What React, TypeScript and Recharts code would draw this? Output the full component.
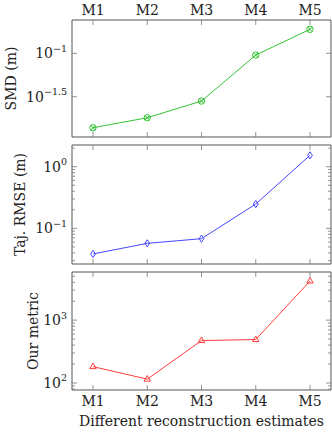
import { LineChart, Line, XAxis, YAxis } from 'recharts'

// ── data ────────────────────────────────────────────────────────────────────
const models = ['M1', 'M2', 'M3', 'M4', 'M5']
const smdValues = [0.0139, 0.0181, 0.0282, 0.0955, 0.189]
const rmseValues = [0.0384, 0.0571, 0.068, 0.248, 1.53]
const metricValues = [182, 115, 473, 491, 4190]

// log-axis ticks: major exponents (labelled) and unlabelled minor ticks
const smdMajorExp = [-1.5, -1]
const smdMinor: number[] = []
const rmseMajorExp = [-1, 0]
const rmseMinor = [0.03, 0.04, 0.05, 0.06, 0.07, 0.08, 0.09, 0.2, 0.3, 0.4, 0.5, 0.6, 0.7, 0.8, 0.9, 2]
const metricMajorExp = [2, 3]
const metricMinor = [80, 90, 200, 300, 400, 500, 600, 700, 800, 900, 2000, 3000, 4000, 5000]

const smdDomain = [0.01087, 0.242]
const rmseDomain = [0.0264, 2.25]
const metricDomain = [77.3, 5834]

const FONT = '"DejaVu Serif", serif'
const FS = 14
const FRAME = '#555'
const TICK = '#777'
const GREEN = '#33c433'
const BLUE = '#4646ff'
const RED = '#ff3c3c'

const W = 332
const PLOT_LEFT = 72
const PLOT_W = 259

const rows = (vals: number[]) => models.map((m, i) => ({ name: m, v: vals[i] }))

// ── ticks ───────────────────────────────────────────────────────────────────
function makeLeftTick(majorExp: number[]) {
  return (props: any) => {
    const { x, y, payload } = props
    const e = majorExp.find((m) => Math.abs(Math.log10(payload.value) - m) < 1e-6)
    const isMajor = e !== undefined
    return (
      <g>
        <line x1={x} x2={x + (isMajor ? 5 : 3)} y1={y} y2={y} stroke={TICK} strokeWidth={0.8} />
        {isMajor && (
          <text x={x - 5} y={y + 5} textAnchor="end" fontFamily={FONT} fontSize={FS} fill="#222">
            10
            <tspan dy={-6.5} fontSize={9.5}>{String(e).replace('-', '\u2212')}</tspan>
          </text>
        )}
      </g>
    )
  }
}

function makeRightTick(majorExp: number[]) {
  return (props: any) => {
    const { x, y, payload } = props
    const isMajor = majorExp.some((m) => Math.abs(Math.log10(payload.value) - m) < 1e-6)
    return <line x1={x} x2={x - (isMajor ? 5 : 3)} y1={y} y2={y} stroke={TICK} strokeWidth={0.8} />
  }
}

function makeXTick(side: 'top' | 'bottom', showLabel: boolean) {
  return (props: any) => {
    const { x, y, payload } = props
    const dir = side === 'top' ? 1 : -1
    return (
      <g>
        <line x1={x} x2={x} y1={y} y2={y + dir * 5} stroke={TICK} strokeWidth={0.8} />
        {showLabel && (
          <text
            x={x}
            y={side === 'top' ? y - 5 : y + 15.5}
            textAnchor="middle"
            fontFamily={FONT}
            fontSize={FS}
            fill="#222"
          >
            {payload.value}
          </text>
        )}
      </g>
    )
  }
}

function yTitle(text: string, baselineX: number) {
  return (props: any) => {
    const vb = props.viewBox
    const cy = vb.y + vb.height / 2
    return (
      <text
        x={baselineX}
        y={cy}
        transform={`rotate(-90, ${baselineX}, ${cy})`}
        textAnchor="middle"
        fontFamily={FONT}
        fontSize={FS}
        fill="#222"
      >
        {text}
      </text>
    )
  }
}

// ── markers ─────────────────────────────────────────────────────────────────
function OTimesDot({ cx, cy }: any) {
  const r = 3.2
  const d = r * 0.7
  return (
    <g stroke={GREEN} strokeWidth={1} fill="none">
      <circle cx={cx} cy={cy} r={r} />
      <line x1={cx - d} y1={cy - d} x2={cx + d} y2={cy + d} />
      <line x1={cx - d} y1={cy + d} x2={cx + d} y2={cy - d} />
    </g>
  )
}

function DiamondDot({ cx, cy }: any) {
  return (
    <path
      d={`M${cx},${cy - 3.6}L${cx + 2.4},${cy}L${cx},${cy + 3.6}L${cx - 2.4},${cy}Z`}
      stroke={BLUE}
      strokeWidth={1}
      fill="none"
    />
  )
}

function TriangleDot({ cx, cy }: any) {
  return (
    <path
      d={`M${cx},${cy - 3.6}L${cx + 3.2},${cy + 2}L${cx - 3.2},${cy + 2}Z`}
      stroke={RED}
      strokeWidth={1}
      fill="none"
    />
  )
}

// ── one panel ───────────────────────────────────────────────────────────────
type PanelProps = {
  top: number
  height: number
  margin: { top: number; bottom: number }
  topAxisH: number
  bottomAxisH: number
  topLabels: boolean
  bottomLabels: boolean
  values: number[]
  domain: number[]
  majorExp: number[]
  minor: number[]
  color: string
  dot: (p: any) => any
  title: string
  titleX: number
  xTitle?: string
}

function Panel(p: PanelProps) {
  const ticks = [...p.majorExp.map((e) => 10 ** e), ...p.minor]
  return (
    <div style={{ position: 'absolute', left: 0, top: p.top }}>
      <LineChart
        width={W}
        height={p.height}
        data={rows(p.values)}
        margin={{ top: p.margin.top, right: 0, bottom: p.margin.bottom, left: 0 }}
      >
        <XAxis
          xAxisId="t"
          orientation="top"
          dataKey="name"
          height={p.topAxisH}
          padding={{ left: 21, right: 21 }}
          tickSize={0}
          tickMargin={0}
          tickLine={false}
          interval={0}
          axisLine={{ stroke: FRAME }}
          tick={makeXTick('top', p.topLabels)}
        />
        <XAxis
          xAxisId="b"
          orientation="bottom"
          dataKey="name"
          height={p.bottomAxisH}
          padding={{ left: 21, right: 21 }}
          tickSize={0}
          tickMargin={0}
          tickLine={false}
          interval={0}
          axisLine={{ stroke: FRAME }}
          tick={makeXTick('bottom', p.bottomLabels)}
          label={
            p.xTitle
              ? (props: any) => {
                  const vb = props.viewBox
                  return (
                    <text
                      x={vb.x + vb.width / 2}
                      y={vb.y + 36}
                      textAnchor="middle"
                      fontFamily={FONT}
                      fontSize={FS}
                      fill="#222"
                    >
                      {p.xTitle}
                    </text>
                  )
                }
              : undefined
          }
        />
        <YAxis
          yAxisId="l"
          orientation="left"
          width={PLOT_LEFT}
          scale="log"
          type="number"
          domain={p.domain}
          allowDataOverflow
          ticks={ticks}
          interval={0}
          tickSize={0}
          tickMargin={0}
          tickLine={false}
          axisLine={{ stroke: FRAME }}
          tick={makeLeftTick(p.majorExp)}
          label={yTitle(p.title, p.titleX)}
        />
        <YAxis
          yAxisId="r"
          orientation="right"
          width={W - PLOT_LEFT - PLOT_W}
          scale="log"
          type="number"
          domain={p.domain}
          allowDataOverflow
          ticks={ticks}
          interval={0}
          tickSize={0}
          tickMargin={0}
          tickLine={false}
          axisLine={{ stroke: FRAME }}
          tick={makeRightTick(p.majorExp)}
        />
        <Line
          xAxisId="b"
          yAxisId="l"
          dataKey="v"
          stroke={p.color}
          strokeWidth={1}
          dot={p.dot}
          activeDot={false}
          isAnimationActive={false}
        />
      </LineChart>
    </div>
  )
}

export default function App() {
  return (
    <div style={{ position: 'absolute', left: 0, top: 0, width: W, height: 432, background: '#fff' }}>
      <Panel
        top={0}
        height={140}
        margin={{ top: 0, bottom: 2 }}
        topAxisH={20}
        bottomAxisH={1}
        topLabels
        bottomLabels={false}
        values={smdValues}
        domain={smdDomain}
        majorExp={smdMajorExp}
        minor={smdMinor}
        color={GREEN}
        dot={OTimesDot}
        title="SMD (m)"
        titleX={16}
      />
      <Panel
        top={140}
        height={126}
        margin={{ top: 4, bottom: 1 }}
        topAxisH={1}
        bottomAxisH={1}
        topLabels={false}
        bottomLabels={false}
        values={rmseValues}
        domain={rmseDomain}
        majorExp={rmseMajorExp}
        minor={rmseMinor}
        color={BLUE}
        dot={DiamondDot}
        title="Taj. RMSE (m)"
        titleX={25}
      />
      <Panel
        top={266}
        height={166}
        margin={{ top: 5, bottom: 1 }}
        topAxisH={1}
        bottomAxisH={41}
        topLabels={false}
        bottomLabels
        values={metricValues}
        domain={metricDomain}
        majorExp={metricMajorExp}
        minor={metricMinor}
        color={RED}
        dot={TriangleDot}
        title="Our metric"
        titleX={37.5}
        xTitle="Different reconstruction estimates"
      />
    </div>
  )
}
